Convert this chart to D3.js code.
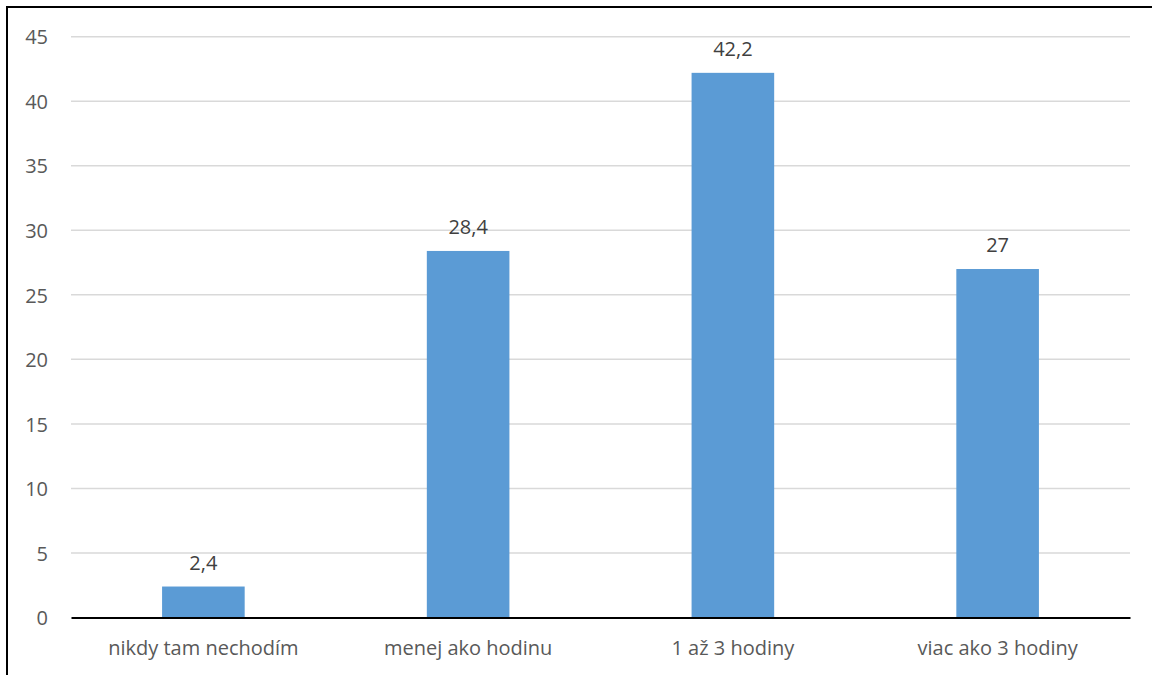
<!DOCTYPE html>
<html><head><meta charset="utf-8">
<script src="https://cdn.jsdelivr.net/npm/d3@7"></script>
<style>body{margin:0;background:#fff}svg{display:block}</style>
</head><body>
<script>
const categories = ["nikdy tam nechodím", "menej ako hodinu", "1 až 3 hodiny", "viac ako 3 hodiny"];
const values = [2.4, 28.4, 42.2, 27];
const labels = ["2,4", "28,4", "42,2", "27"];
const yTicks = [0, 5, 10, 15, 20, 25, 30, 35, 40, 45];

const W = 1152, H = 675;
const m = {left: 71, right: 22, top: 36.7, bottom: 57.5};
const svg = d3.select("body").append("svg").attr("width", W).attr("height", H);
const font = "'Open Sans', sans-serif";

svg.append("rect").attr("x", 7).attr("y", 7).attr("width", W + 10).attr("height", H + 10)
  .attr("fill", "#fff").attr("stroke", "#000").attr("stroke-width", 2);

const x = d3.scaleBand().domain(categories).range([m.left, W - m.right]).paddingInner(0.688).paddingOuter(0.344);
const y = d3.scaleLinear().domain([0, 45]).range([H - m.bottom, m.top]);

svg.append("g").selectAll("line").data(yTicks.filter(d => d > 0)).join("line")
  .attr("x1", m.left).attr("x2", W - m.right)
  .attr("y1", d => y(d)).attr("y2", d => y(d))
  .attr("stroke", "#d9d9d9").attr("stroke-width", 1.5);

const yAxis = svg.append("g").attr("transform", `translate(${m.left},0)`)
  .call(d3.axisLeft(y).tickValues(yTicks).tickSize(0).tickPadding(23));
yAxis.select(".domain").remove();
yAxis.selectAll("text").attr("font-family", font).attr("font-size", 20).attr("fill", "#595959").attr("dy", "0.36em");

svg.selectAll("rect.bar").data(values).join("rect").attr("class", "bar")
  .attr("x", (d, i) => x(categories[i])).attr("width", x.bandwidth())
  .attr("y", d => y(d)).attr("height", d => y(0) - y(d))
  .attr("fill", "#5b9bd5");

svg.selectAll("text.lbl").data(values).join("text").attr("class", "lbl")
  .attr("x", (d, i) => x(categories[i]) + x.bandwidth() / 2)
  .attr("y", d => y(d) - 17)
  .attr("text-anchor", "middle").attr("font-family", font).attr("font-size", 20).attr("fill", "#404040")
  .text((d, i) => labels[i]);

const xAxis = svg.append("g").attr("transform", `translate(0,${y(0)})`)
  .call(d3.axisBottom(x).tickSize(0).tickPadding(0));
xAxis.select(".domain").attr("stroke", "#000").attr("stroke-width", 2);
xAxis.selectAll("text").attr("font-family", font).attr("font-size", 20).attr("fill", "#595959")
  .attr("dy", null).attr("y", 655 - (H - m.bottom));
</script>
</body></html>
